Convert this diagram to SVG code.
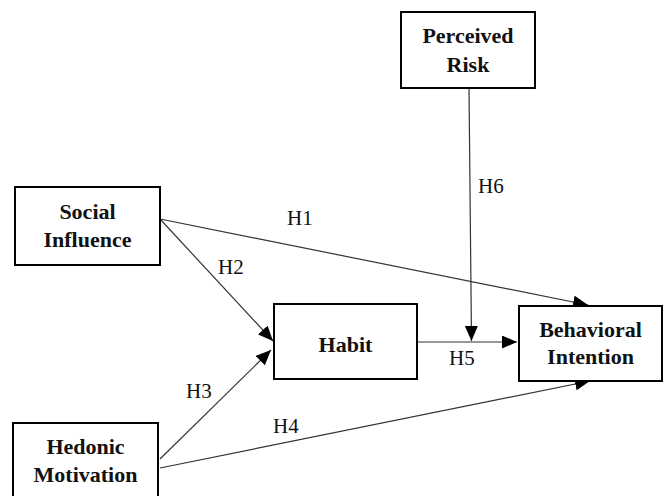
<svg xmlns="http://www.w3.org/2000/svg" width="668" height="496" viewBox="0 0 668 496">
<style>
.box{fill:#fff;stroke:#000;stroke-width:2}
.nt{font-weight:bold;font-size:22px;fill:#111;text-anchor:middle}
.lb{font-size:21px;fill:#111}
.ln{stroke:#333;stroke-width:1.2;fill:none}
</style>
<defs>
<marker id="ah" markerUnits="userSpaceOnUse" markerWidth="16" markerHeight="14" refX="15" refY="6.5" orient="auto">
<path d="M0,0 L15,6.5 L0,13 z" fill="#000"/>
</marker>
</defs>
<rect width="668" height="496" fill="#fff"/>
<g font-family="Liberation Serif, Times New Roman, DejaVu Serif, serif">
<g id="connectors">
<line class="ln" x1="160" y1="219" x2="588" y2="305" marker-end="url(#ah)"/>
<line class="ln" x1="160" y1="219" x2="273" y2="341" marker-end="url(#ah)"/>
<line class="ln" x1="160" y1="459" x2="271" y2="350" marker-end="url(#ah)"/>
<line class="ln" x1="160" y1="468" x2="590" y2="381" marker-end="url(#ah)"/>
<line class="ln" x1="417" y1="342" x2="517" y2="342" marker-end="url(#ah)"/>
<line class="ln" x1="469" y1="88" x2="471.5" y2="341" stroke="#777" marker-end="url(#ah)"/>
<text class="lb" x="287" y="225">H1</text>
<text class="lb" x="218" y="274">H2</text>
<text class="lb" x="186" y="398">H3</text>
<text class="lb" x="273" y="433">H4</text>
<text class="lb" x="449" y="365">H5</text>
<text class="lb" x="478" y="193">H6</text>
</g>
<g id="social-influence">
<rect class="box" x="15" y="187" width="145" height="78"/>
<text class="nt" x="87.5" y="219">Social</text>
<text class="nt" x="87.5" y="247">Influence</text>
</g>
<g id="perceived-risk">
<rect class="box" x="401" y="12" width="134" height="76"/>
<text class="nt" x="468" y="43">Perceived</text>
<text class="nt" x="468" y="72">Risk</text>
</g>
<g id="habit">
<rect class="box" x="274" y="304" width="143" height="75"/>
<text class="nt" x="345.5" y="352">Habit</text>
</g>
<g id="behavioral-intention">
<rect class="box" x="519" y="306" width="143" height="75"/>
<text class="nt" x="590.5" y="337">Behavioral</text>
<text class="nt" x="590.5" y="364">Intention</text>
</g>
<g id="hedonic-motivation">
<rect class="box" x="13" y="423" width="145" height="90"/>
<text class="nt" x="85.5" y="454">Hedonic</text>
<text class="nt" x="85.5" y="482">Motivation</text>
</g>
</g>
</svg>
